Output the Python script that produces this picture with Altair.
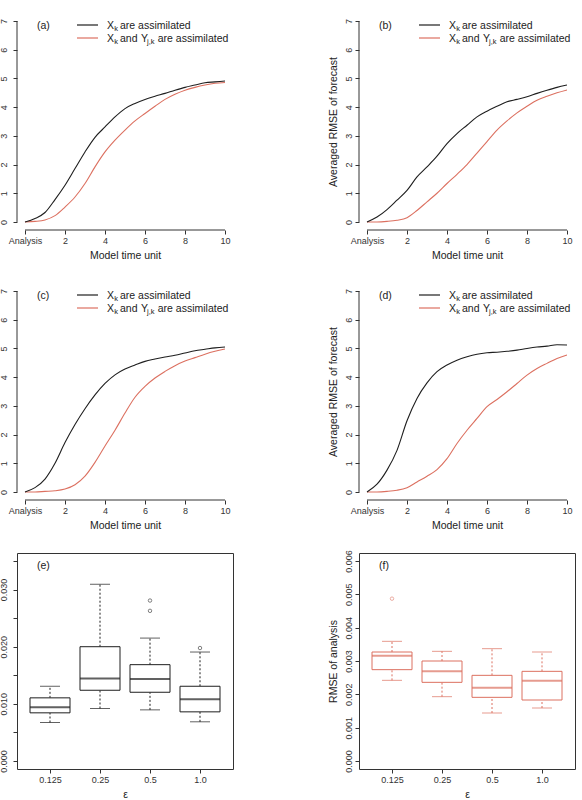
import altair as alt
import pandas as pd

# ---------------- data ----------------
t = [i * 0.5 for i in range(21)]

a_black = [0, 0.12, 0.33, 0.78, 1.28, 1.86, 2.44, 2.95, 3.31, 3.66, 3.95, 4.13, 4.27, 4.38, 4.48, 4.59, 4.69, 4.77, 4.85, 4.88, 4.91]
a_red = [0, 0.02, 0.07, 0.22, 0.52, 0.87, 1.34, 1.92, 2.44, 2.85, 3.20, 3.52, 3.78, 4.03, 4.27, 4.45, 4.59, 4.69, 4.77, 4.83, 4.86]

b_black = [0, 0.17, 0.43, 0.76, 1.10, 1.57, 1.92, 2.29, 2.73, 3.08, 3.37, 3.66, 3.86, 4.03, 4.19, 4.27, 4.36, 4.48, 4.59, 4.69, 4.77]
b_red = [0, 0.00, 0.02, 0.06, 0.15, 0.40, 0.70, 1.00, 1.34, 1.66, 2.00, 2.40, 2.80, 3.20, 3.52, 3.80, 4.03, 4.24, 4.38, 4.50, 4.60]

c_black = [0, 0.15, 0.45, 1.00, 1.72, 2.35, 2.90, 3.38, 3.78, 4.08, 4.28, 4.42, 4.55, 4.63, 4.70, 4.76, 4.84, 4.92, 4.97, 5.02, 5.05]
c_red = [0, 0.00, 0.02, 0.04, 0.10, 0.25, 0.55, 1.03, 1.60, 2.15, 2.75, 3.30, 3.68, 3.97, 4.20, 4.40, 4.56, 4.68, 4.80, 4.90, 4.98]

d_black = [0, 0.27, 0.76, 1.45, 2.48, 3.26, 3.80, 4.19, 4.42, 4.59, 4.71, 4.80, 4.85, 4.87, 4.90, 4.94, 5.00, 5.05, 5.08, 5.13, 5.12]
d_red = [0, 0.00, 0.02, 0.06, 0.15, 0.35, 0.55, 0.78, 1.16, 1.69, 2.15, 2.56, 2.97, 3.22, 3.49, 3.78, 4.07, 4.30, 4.48, 4.65, 4.77]

cats = ["0.125", "0.25", "0.5", "1.0"]
e_lo = [0.00674, 0.00919, 0.00895, 0.00686]
e_q1 = [0.00843, 0.01238, 0.01203, 0.00860]
e_med = [0.00942, 0.01442, 0.01436, 0.01081]
e_q3 = [0.01105, 0.02000, 0.01686, 0.01308]
e_hi = [0.01308, 0.03093, 0.02151, 0.01907]
e_out_cat = ["0.5", "0.5", "1.0"]
e_out_val = [0.02628, 0.02808, 0.01977]

f_lo = [0.00242, 0.00193, 0.00144, 0.00159]
f_q1 = [0.00274, 0.00236, 0.00191, 0.00183]
f_med = [0.00316, 0.00269, 0.00220, 0.00241]
f_q3 = [0.00327, 0.00300, 0.00257, 0.00269]
f_hi = [0.00359, 0.00329, 0.00337, 0.00327]
f_out_cat = ["0.125"]
f_out_val = [0.00487]

# ---------------- style ----------------
FONT = "Liberation Sans"
BLACK = "#1e1e1e"
RED = "#dc7060"
AXC = "#333333"
TXT = "#222222"
W, H = 216, 217
HB = 216
LP_LEFT = 5   # label padding of the left column (labels partly cut at page edge)
LP_RIGHT = 2


def annotations(tag, legend=True):
    one = pd.DataFrame({"d": [0]})
    base = alt.Chart(one)

    def txt(s, x, y, size=10.5):
        return base.mark_text(align="left", baseline="alphabetic", font=FONT,
                              fontSize=size, color=TXT).encode(
            x=alt.value(x), y=alt.value(y), text=alt.value(s))

    layers = [txt(tag, 20, 15.5)]
    if legend:
        layers += [
            base.mark_rule(color=BLACK, strokeWidth=1.2).encode(
                x=alt.value(60), x2=alt.value(81), y=alt.value(12)),
            base.mark_rule(color=RED, strokeWidth=1.2).encode(
                x=alt.value(60), x2=alt.value(81), y=alt.value(25)),
            txt("X", 90, 15.5), txt("k", 97.3, 18, 7.5), txt("are assimilated", 103, 15.5),
            txt("X", 90, 28.5), txt("k", 97.3, 31, 7.5), txt("and", 103, 28.5),
            txt("Y", 124, 28.5), txt("j,k", 130, 31, 7.5), txt("are assimilated", 140.7, 28.5),
        ]
    return layers


def line_panel(tag, black, red, ytitle, lp):
    xax = alt.Axis(values=[0, 2, 4, 6, 8, 10],
                   labelExpr="datum.value === 0 ? 'Analysis' : datum.label",
                   domain=False, grid=False, title="Model time unit")
    yax = alt.Axis(values=list(range(8)), domain=False, grid=False,
                   labelAngle=270, labelPadding=lp, title=ytitle)
    xsc = alt.Scale(domain=[-0.4, 10.4], nice=False, zero=False)
    ysc = alt.Scale(domain=[-0.28, 7.28], nice=False, zero=False)

    def X(f):
        return alt.X(f, type="quantitative", scale=xsc, axis=xax)

    def Y(f):
        return alt.Y(f, type="quantitative", scale=ysc, axis=yax)

    bdf = pd.DataFrame({"t": t, "v": black})
    rdf = pd.DataFrame({"t": t, "v": red})
    l_black = alt.Chart(bdf).mark_line(color=BLACK, strokeWidth=1.1,
                                       interpolate="monotone").encode(x=X("t"), y=Y("v"))
    l_red = alt.Chart(rdf).mark_line(color=RED, strokeWidth=1.1,
                                     interpolate="monotone").encode(x=X("t"), y=Y("v"))
    xline = alt.Chart(pd.DataFrame({"t": [0], "t2": [10]})).mark_rule(
        color=AXC, strokeWidth=1).encode(x=X("t"), x2="t2:Q", y=alt.value(H))
    yline = alt.Chart(pd.DataFrame({"v": [0], "v2": [7]})).mark_rule(
        color=AXC, strokeWidth=1).encode(y=Y("v"), y2="v2:Q", x=alt.value(0))
    return alt.layer(xline, yline, l_red, l_black, *annotations(tag)).properties(
        width=W, height=H)


def box_panel(tag, lo, q1, med, q3, hi, out_cat, out_val, ymax, step, labelexpr,
              ytitle, color, lp):
    pad = ymax * 0.04
    ysc = alt.Scale(domain=[-pad, ymax + pad], nice=False, zero=False)
    n = int(round(ymax / step))
    yax = alt.Axis(values=[round(i * step, 6) for i in range(n + 1)], domain=False,
                   grid=False, labelAngle=270, labelExpr=labelexpr, labelPadding=lp,
                   title=ytitle)
    xsc = alt.Scale(type="point", padding=0.66)
    xax = alt.Axis(domain=False, grid=False, labelAngle=0, title="ε")

    def X():
        return alt.X("cat:N", sort=cats, scale=xsc, axis=xax)

    def Y(f):
        return alt.Y(f, type="quantitative", scale=ysc, axis=yax)

    df = pd.DataFrame({"cat": cats, "lo": lo, "q1": q1, "med": med, "q3": q3, "hi": hi})
    odf = pd.DataFrame({"cat": out_cat, "v": out_val})
    base = alt.Chart(df)
    w_lo = base.mark_rule(color=color, strokeWidth=1, strokeDash=[2, 2]).encode(
        x=X(), y=Y("lo"), y2="q1:Q")
    w_hi = base.mark_rule(color=color, strokeWidth=1, strokeDash=[2, 2]).encode(
        x=X(), y=Y("q3"), y2="hi:Q")
    cap_lo = base.mark_tick(color=color, size=20, thickness=1).encode(x=X(), y=Y("lo"))
    cap_hi = base.mark_tick(color=color, size=20, thickness=1).encode(x=X(), y=Y("hi"))
    box = base.mark_bar(size=40, fill="white", stroke=color, strokeWidth=1).encode(
        x=X(), y=Y("q1"), y2="q3:Q")
    med_t = base.mark_tick(color=color, size=40, thickness=2).encode(x=X(), y=Y("med"))
    outl = alt.Chart(odf).mark_point(shape="circle", filled=False, color=color,
                                     size=12, strokeWidth=0.8).encode(x=X(), y=Y("v"))
    return alt.layer(w_lo, w_hi, cap_lo, cap_hi, box, med_t, outl,
                     *annotations(tag, legend=False)).properties(
        width=W, height=HB, view=alt.ViewBackground(stroke=AXC, strokeWidth=1))


pa = line_panel("(a)", a_black, a_red, None, LP_LEFT)
pb = line_panel("(b)", b_black, b_red, "Averaged RMSE of forecast", LP_RIGHT)
pc = line_panel("(c)", c_black, c_red, None, LP_LEFT)
pd_ = line_panel("(d)", d_black, d_red, "Averaged RMSE of forecast", LP_RIGHT)

pe = box_panel("(e)", e_lo, e_q1, e_med, e_q3, e_hi, e_out_cat, e_out_val, 0.035, 0.005,
               "abs(datum.value*100 - round(datum.value*100)) < 1e-6 ? format(datum.value, '.3f') : ''",
               None, BLACK, LP_LEFT)
pf = box_panel("(f)", f_lo, f_q1, f_med, f_q3, f_hi, f_out_cat, f_out_val, 0.006, 0.001,
               "format(datum.value, '.3f')", "RMSE of analysis", RED, LP_RIGHT)

chart = alt.concat(pa, pb, pc, pd_, pe, pf, columns=2,
                   spacing={"row": 53, "column": 126}, bounds="flush").properties(
    padding={"left": -2, "top": 13, "right": 0, "bottom": 0}
).configure_view(strokeWidth=0).configure_axis(
    labelFont=FONT, labelFontSize=9, labelColor=AXC, tickColor=AXC, tickSize=4,
    tickWidth=1, labelOverlap=False, labelFlush=False,
    titleFont=FONT, titleFontSize=10.5, titleFontWeight="normal", titleColor=TXT,
).configure_axisX(labelPadding=2.5, titlePadding=5).configure_axisY(titlePadding=6)

chart.save("out.html", embed_options={"renderer": "svg", "actions": False})
